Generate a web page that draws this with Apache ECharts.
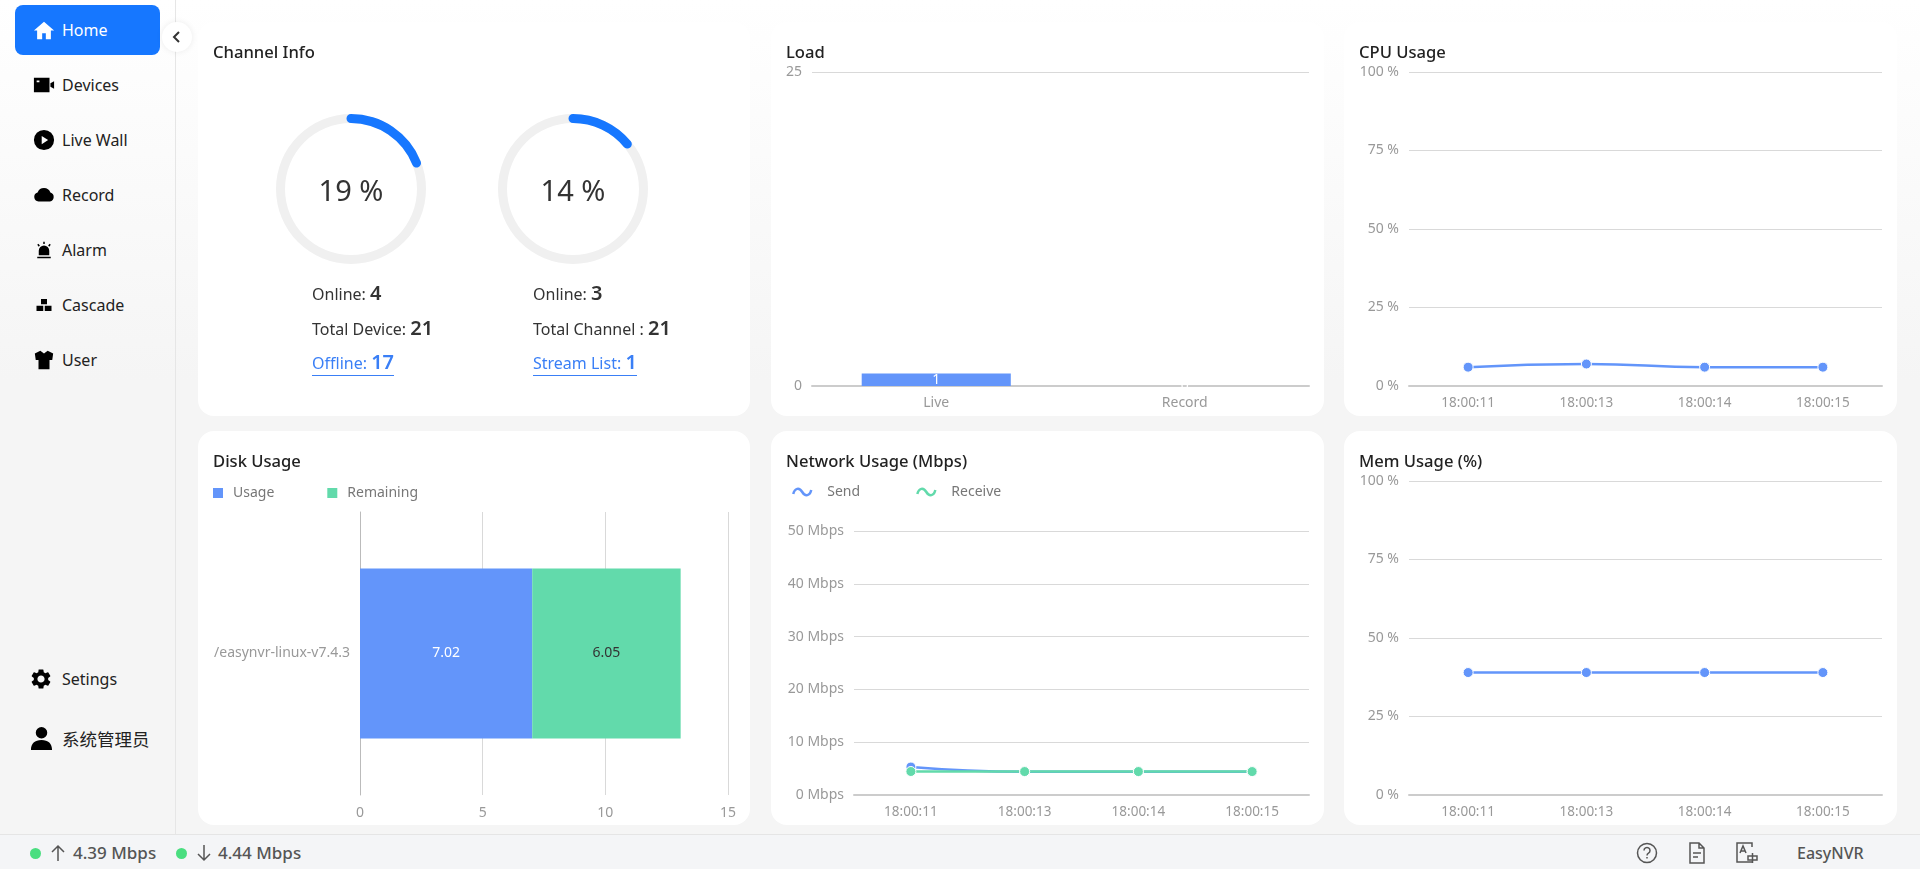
<!DOCTYPE html>
<html>
<head>
<meta charset="utf-8">
<title>EasyNVR</title>
<script src="https://cdn.jsdelivr.net/npm/echarts@6/dist/echarts.min.js"></script>
<style>
    html, body { margin: 0; padding: 0; width: 1920px; height: 869px; overflow: hidden; }
    body {
        position: relative;
        font-family: "Noto Sans", "Noto Sans CJK SC", sans-serif;
        background: linear-gradient(#fff 0, #f5f5f5 380px);
    }
    .side { position: absolute; left: 0; top: 0; width: 175px; height: 834px; border-right: 1px solid #e6e6e6; }
    .nav { position: absolute; left: 15px; width: 145px; height: 50px; line-height: 51px; font-size: 16px; color: #222; border-radius: 8px; }
    .nav span { position: absolute; left: 47px; top: 0; white-space: nowrap; }
    .nav svg { position: absolute; left: 18px; top: 14px; width: 22px; height: 22px; fill: #000; }
    .nav.active { background: #1677ff; color: #fff; }
    .nav.active svg { fill: #fff; }
    .collapse { position: absolute; left: 162px; top: 22px; width: 30px; height: 30px; background: #fff; border-radius: 50%; box-shadow: 0 0 6px rgba(0, 0, 0, .08); }
    .collapse svg { position: absolute; left: 8px; top: 8px; width: 14px; height: 14px; fill: none; stroke: #333; stroke-width: 2; }
    .card { position: absolute; width: 553px; height: 394px; background: #fff; border-radius: 16px; overflow: hidden; }
    .chart { position: absolute; left: 0; top: 0; width: 100%; height: 100%; }
    .info { position: absolute; font-size: 16px; color: #333; white-space: nowrap; line-height: 26px; }
    .info b { font-size: 20px; font-weight: 600; }
    .info a { color: #3a7ff6; text-decoration: none; border-bottom: 1px solid #3a7ff6; display: inline-block; line-height: 24px; }
    .foot { position: absolute; left: 0; top: 834px; width: 1920px; height: 35px; background: #f4f5f7; border-top: 1px solid #e5e5e5; box-sizing: border-box; color: #555; font-size: 17px; font-weight: 500; line-height: 36px; }
    .foot i { position: absolute; top: 13px; width: 11px; height: 11px; border-radius: 50%; background: #4ade80; }
    .foot span { position: absolute; top: 0; white-space: nowrap; }
    .foot svg { position: absolute; fill: none; stroke: #555; stroke-width: 1.5; }
</style>
</head>
<body>
<div class="side">
    <div class="nav active" style="top:5px"><svg viewBox="0 0 24 24"><path d="M12 3 1 12.5h3.5V22h5.5v-6.5h4V22h5.5v-9.500H23z"/></svg><span>Home</span></div>
    <div class="nav" style="top:60px"><svg viewBox="0 0 24 24"><path fill-rule="evenodd" d="M1 4h17v16H1zM4 7v2h3V7zM19 10l4-2v8l-4-2z"/></svg><span>Devices</span></div>
    <div class="nav" style="top:115px"><svg viewBox="0 0 24 24"><path fill-rule="evenodd" d="M12 1a11 11 0 1 0 0 22 11 11 0 0 0 0-22zM9.500 7.500l7 4.500-7 4.500z"/></svg><span>Live Wall</span></div>
    <div class="nav" style="top:170px"><svg viewBox="0 0 24 24"><path d="M6 19a5 5 0 0 1-1-9.800A7.500 7.500 0 0 1 19 9.300 5 5 0 0 1 18.500 19z"/></svg><span>Record</span></div>
    <div class="nav" style="top:225px"><svg style="left:20px;top:16px;width:18px;height:18px" viewBox="0 0 24 24"><path d="M5 19v-6a7 7 0 0 1 14 0v6zM3 21h18v2H3zM11 1h2v3h-2zM3 5l1.500-1.500L6.500 6 5 7.500zM21 5l-1.500-1.500L17.500 6 19 7.500z"/></svg><span>Alarm</span></div>
    <div class="nav" style="top:280px"><svg style="left:20px;top:16px;width:18px;height:18px" viewBox="0 0 24 24"><path d="M8 4h8v7H8zM2 13h9v7H2zM13 13h9v7h-9z"/></svg><span>Cascade</span></div>
    <div class="nav" style="top:335px"><svg viewBox="0 0 24 24"><path d="M8 2 2 5l1 7h3v10h12V12h3l1-7-6-3-4 3z"/></svg><span>User</span></div>
    <div class="nav" style="top:654px"><svg style="left:14px;top:13px;width:24px;height:24px" viewBox="0 0 24 24"><path d="M19.140 12.940c.04-.3.06-.61.06-.94 0-.32-.02-.64-.07-.94l2.030-1.580a.49.49 0 0 0 .12-.61l-1.920-3.320a.488.488 0 0 0-.59-.22l-2.390.96c-.5-.38-1.030-.7-1.620-.94l-.36-2.540a.484.484 0 0 0-.48-.41h-3.840c-.24 0-.43.17-.47.41l-.36 2.540c-.59.24-1.130.57-1.620.94l-2.390-.96c-.22-.08-.47 0-.59.22L2.740 8.870c-.12.21-.08.47.12.61l2.030 1.580c-.05.3-.09.63-.09.94s.02.64.07.94l-2.030 1.580a.49.49 0 0 0-.12.61l1.920 3.320c.12.22.37.29.59.22l2.390-.96c.5.38 1.030.7 1.620.94l.36 2.540c.05.24.24.41.48.41h3.840c.24 0 .44-.17.47-.41l.36-2.540c.59-.24 1.130-.56 1.620-.94l2.390.96c.22.08.47 0 .59-.22l1.920-3.320c.12-.22.07-.47-.12-.61l-2.010-1.580zM12 15.600c-1.980 0-3.600-1.620-3.600-3.600s1.620-3.600 3.600-3.600 3.600 1.620 3.600 3.600-1.620 3.600-3.600 3.600z"/></svg><span>Setings</span></div>
    <div class="nav" style="top:714px;font-size:17.5px;line-height:50px"><svg style="left:15px;top:13px;width:23px;height:23px" viewBox="0 0 24 24"><path d="M12 0a6 6 0 1 0 0 12 6 6 0 0 0 0-12zM1 24c0-7 4-10.500 11-10.500S23 17 23 24z"/></svg><span>系统管理员</span></div>
</div>
<div class="collapse"><svg viewBox="0 0 14 14"><path d="M9 2 4 7l5 5"/></svg></div>

<div class="card" style="left:198px;top:22px;width:552px"><div class="chart" id="channelChart"></div><div id="channelText"></div></div>
<div class="card" style="left:771px;top:22px"><div class="chart" id="loadChart"></div></div>
<div class="card" style="left:1344px;top:22px"><div class="chart" id="cpuChart"></div></div>
<div class="card" style="left:198px;top:431px;width:552px"><div class="chart" id="diskChart"></div></div>
<div class="card" style="left:771px;top:431px"><div class="chart" id="netChart"></div></div>
<div class="card" style="left:1344px;top:431px"><div class="chart" id="memChart"></div></div>

<div class="foot">
    <i style="left:30px"></i>
    <svg style="left:50px;top:9px" width="16" height="18" viewBox="0 0 16 18"><path d="M8 17V2M2 8l6-6 6 6"/></svg>
    <span id="sendRate" style="left:73px"></span>
    <i style="left:176px"></i>
    <svg style="left:196px;top:9px" width="16" height="18" viewBox="0 0 16 18"><path d="M8 1v15M2 10l6 6 6-6"/></svg>
    <span id="receiveRate" style="left:218px"></span>
    <svg style="left:1636px;top:7px" width="22" height="22" viewBox="0 0 22 22"><circle cx="11" cy="11" r="9.500"/><path d="M8 8.500a3 3 0 1 1 4.500 2.600c-1 .6-1.500 1-1.500 2.400M11 15v1.500"/></svg>
    <svg style="left:1688px;top:7px" width="18" height="22" viewBox="0 0 18 22"><path d="M2 1h9l5 5v15H2zM11 1v5h5M5 11h8M5 15h5"/></svg>
    <svg style="left:1736px;top:7px" width="22" height="22" viewBox="0 0 22 22"><path d="M16 5V1H1v19h15M4 11l3-7 3 7M5 9h4M12 14h9v4h-9zM16.500 11v10"/></svg>
    <span style="left:1797px;font-size:16px">EasyNVR</span>
</div>

<script>
// channel info
var deviceLabels = ["Online: ", "Total Device: ", "Offline: "];
var deviceCounts = [4, 21, 17];
var channelLabels = ["Online: ", "Total Channel : ", "Stream List: "];
var channelCounts = [3, 21, 1];
var gaugeValues = [19, 14];

// load
var loadCategories = ["Live", "Record"];
var loadValues = [1, 0];

// time based charts
var timeLabels = ["18:00:11", "18:00:13", "18:00:14", "18:00:15"];
var cpuValues = [6, 7, 6, 6];
var memValues = [39, 39, 39, 39];
var sendValues = [5.3, 4.4, 4.4, 4.39];
var receiveValues = [4.45, 4.44, 4.44, 4.44];

// disk
var diskCategories = ["/easynvr-linux-v7.4.3"];
var diskUsage = [7.02];
var diskRemaining = [6.05];

var sendRate = "4.39 Mbps";
var receiveRate = "4.44 Mbps";

var BLUE = "#6395fa";
var GREEN = "#62daab";
var FONT = '"Noto Sans", "Noto Sans CJK SC", sans-serif';
var WAVE = "path://M0,7 C1.500,1 6,0 9,5 C12,10 16.500,9 18,3";

function initChart(id, option) {
    option.animation = false;
    option.textStyle = { fontFamily: FONT };
    var chart = echarts.init(document.getElementById(id));
    chart.setOption(option);
    return chart;
}

function titleOf(text) {
    return {
        text: text,
        left: 15,
        top: 19,
        padding: 0,
        textStyle: { fontSize: 16.6, fontWeight: 500, color: "#222", lineHeight: 24, fontFamily: FONT }
    };
}

function categoryAxis(data, fontSize) {
    return {
        type: "category",
        data: data,
        axisLine: { lineStyle: { color: "#ccc", width: 2 } },
        axisTick: { alignWithLabel: true, length: 5, lineStyle: { color: "#ccc" } },
        axisLabel: { color: "#999", fontSize: fontSize, margin: 10 }
    };
}

function valueAxis(max, interval, unit) {
    return {
        type: "value",
        min: 0,
        max: max,
        interval: interval,
        axisLine: { show: false },
        axisTick: { show: false },
        splitLine: { lineStyle: { color: "#d9d9d9" } },
        axisLabel: { color: "#999", fontSize: 14, margin: 10, formatter: "{value}" + unit }
    };
}

function lineSeries(name, data, color) {
    return {
        name: name,
        type: "line",
        smooth: true,
        data: data,
        symbol: "circle",
        symbolSize: 10,
        lineStyle: { color: color, width: 2.5 },
        itemStyle: { color: color, borderColor: "#fff", borderWidth: 1 }
    };
}

function gaugeSeries(value, cx) {
    return {
        type: "gauge",
        center: [cx, 167],
        radius: 75,
        startAngle: 90,
        endAngle: -270,
        min: 0,
        max: 100,
        pointer: { show: false },
        axisTick: { show: false },
        splitLine: { show: false },
        axisLabel: { show: false },
        title: { show: false },
        axisLine: { lineStyle: { width: 9, color: [[1, "#f0f0f0"]] } },
        progress: { show: true, roundCap: true, width: 9, itemStyle: { color: "#1677ff" } },
        detail: {
            offsetCenter: [0, 4],
            fontSize: 29,
            fontWeight: "normal",
            color: "#333",
            fontFamily: FONT,
            formatter: "{value} %"
        },
        data: [{ value: value }]
    };
}

function writeInfo(left, labels, counts) {
    var tops = [258, 293, 328];
    var box = document.getElementById("channelText");
    for (var i = 0; i < labels.length; i++) {
        var line = document.createElement("div");
        line.className = "info";
        line.style.left = left + "px";
        line.style.top = tops[i] + "px";
        var html = labels[i] + "<b>" + counts[i] + "</b>";
        line.innerHTML = i === 2 ? "<a>" + html + "</a>" : html;
        box.appendChild(line);
    }
}

writeInfo(114, deviceLabels, deviceCounts);
writeInfo(335, channelLabels, channelCounts);
document.getElementById("sendRate").textContent = sendRate;
document.getElementById("receiveRate").textContent = receiveRate;

initChart("channelChart", {
    title: titleOf("Channel Info"),
    series: [gaugeSeries(gaugeValues[0], 153), gaugeSeries(gaugeValues[1], 375)]
});

initChart("loadChart", {
    title: titleOf("Load"),
    grid: { left: 41, right: 15, top: 50, bottom: 30 },
    xAxis: categoryAxis(loadCategories, 14),
    yAxis: valueAxis(25, 25, ""),
    series: [{
        type: "bar",
        barWidth: "60%",
        data: loadValues,
        itemStyle: { color: BLUE },
        label: { show: true, position: "inside", color: "#fff", fontSize: 14 }
    }]
});

initChart("cpuChart", {
    title: titleOf("CPU Usage"),
    grid: { left: 65, right: 15, top: 50, bottom: 30 },
    xAxis: categoryAxis(timeLabels, 13.5),
    yAxis: valueAxis(100, 25, " %"),
    series: [lineSeries("CPU", cpuValues, BLUE)]
});

initChart("diskChart", {
    title: titleOf("Disk Usage"),
    color: [BLUE, GREEN],
    legend: {
        left: 10,
        top: 50,
        itemWidth: 10,
        itemHeight: 10,
        itemGap: 53,
        icon: "rect",
        textStyle: { color: "#777", fontSize: 14, padding: [0, 0, 0, 5] }
    },
    grid: { left: 162, right: 22, top: 81, bottom: 30 },
    xAxis: {
        type: "value",
        min: 0,
        max: 15,
        interval: 5,
        axisLine: { show: false },
        axisTick: { show: false },
        splitLine: { lineStyle: { color: "#d9d9d9" } },
        axisLabel: { color: "#999", fontSize: 14, margin: 11 }
    },
    yAxis: {
        type: "category",
        data: diskCategories,
        axisLine: { lineStyle: { color: "#bbb" } },
        axisTick: { length: 5, lineStyle: { color: "#bbb" } },
        axisLabel: { color: "#999", fontSize: 14, margin: 10 }
    },
    series: [
        {
            name: "Usage",
            type: "bar",
            stack: "disk",
            barWidth: "60%",
            data: diskUsage,
            itemStyle: { color: BLUE },
            label: { show: true, position: "inside", color: "#fff", fontSize: 14 }
        },
        {
            name: "Remaining",
            type: "bar",
            stack: "disk",
            data: diskRemaining,
            itemStyle: { color: GREEN },
            label: { show: true, position: "inside", color: "#333", fontSize: 14 }
        }
    ]
});

initChart("netChart", {
    title: titleOf("Network Usage (Mbps)"),
    legend: {
        left: 16,
        top: 49,
        itemWidth: 18,
        itemHeight: 12,
        itemGap: 56,
        textStyle: { color: "#777", fontSize: 14, padding: [0, 0, 0, 11] },
        data: [
            { name: "Send", icon: WAVE, itemStyle: { color: "transparent", borderColor: BLUE, borderWidth: 2.5 } },
            { name: "Receive", icon: WAVE, itemStyle: { color: "transparent", borderColor: GREEN, borderWidth: 2.5 } }
        ]
    },
    grid: { left: 83, right: 15, top: 100, bottom: 30 },
    xAxis: categoryAxis(timeLabels, 13.5),
    yAxis: valueAxis(50, 10, " Mbps"),
    series: [lineSeries("Send", sendValues, BLUE), lineSeries("Receive", receiveValues, GREEN)]
});

initChart("memChart", {
    title: titleOf("Mem Usage (%)"),
    grid: { left: 65, right: 15, top: 50, bottom: 30 },
    xAxis: categoryAxis(timeLabels, 13.5),
    yAxis: valueAxis(100, 25, " %"),
    series: [lineSeries("Mem", memValues, BLUE)]
});
</script>
</body>
</html>
